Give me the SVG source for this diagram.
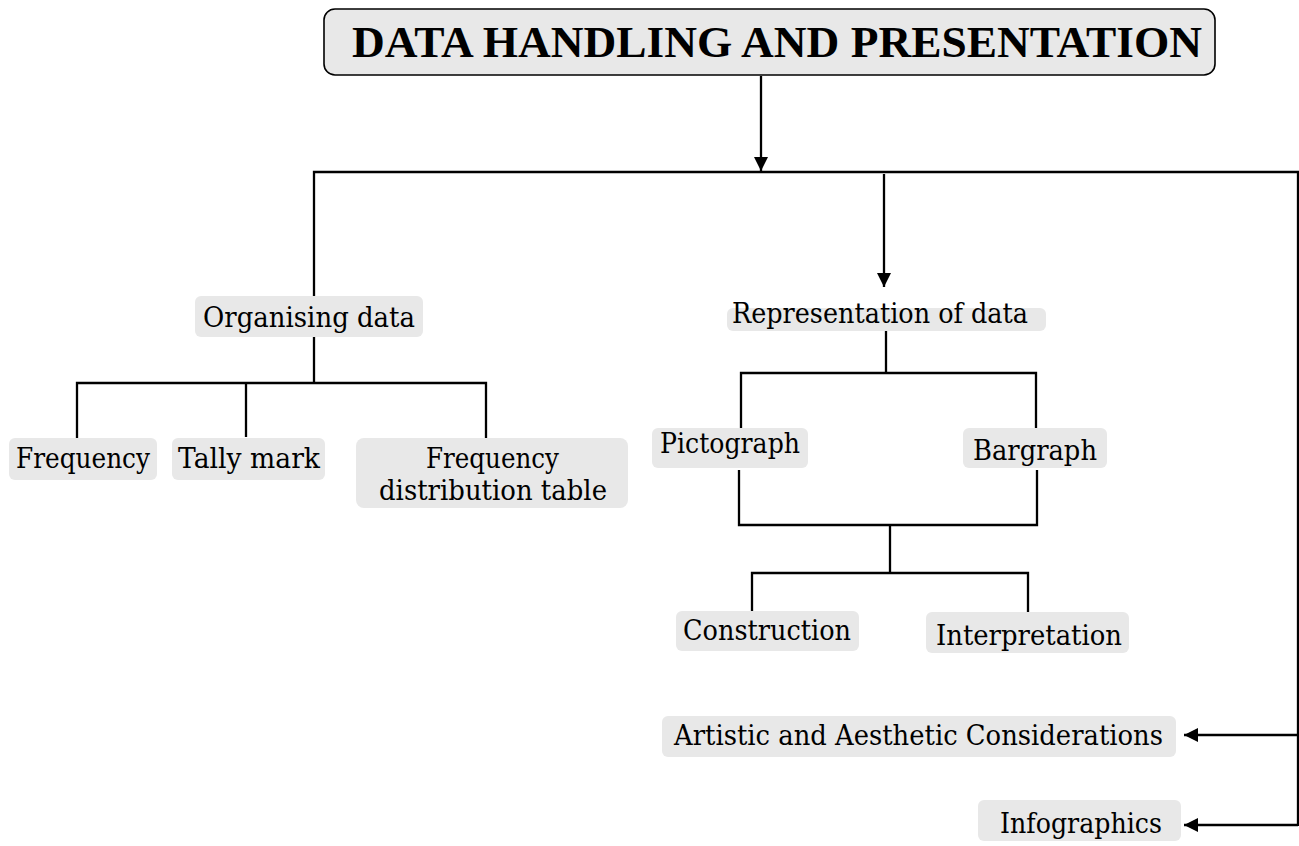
<svg xmlns="http://www.w3.org/2000/svg" width="1299" height="846" viewBox="0 0 1299 846">
  <style>
    .box { fill: #e8e8e8; }
    .title-box { fill: #e8e8e8; stroke: #000; stroke-width: 1.6; }
    .lbl { font-family: "DejaVu Serif", "Liberation Serif", serif; font-size: 27px; fill: #000; }
    .title { font-family: "Liberation Serif", "DejaVu Serif", serif; font-size: 44px; font-weight: bold; fill: #000; }
    .wire { fill: none; stroke: #000; stroke-width: 2.3; }
  </style>
  <defs>
    <marker id="arrow" markerUnits="userSpaceOnUse" markerWidth="16" markerHeight="16" refX="14" refY="7.5" orient="auto">
      <path d="M0,0.5 L14,7.5 L0,14.5 Z" fill="#000"/>
    </marker>
  </defs>
  <rect width="1299" height="846" fill="#fff"/>

  <!-- connectors -->
  <g id="connectors">
    <line class="wire" x1="761" y1="76" x2="761" y2="171" marker-end="url(#arrow)"/>
    <polyline class="wire" points="314,296 314,172 1298,172 1298,826"/>
    <line class="wire" x1="884" y1="174" x2="884" y2="287" marker-end="url(#arrow)"/>
    <line class="wire" x1="1298" y1="735" x2="1184" y2="735" marker-end="url(#arrow)"/>
    <line class="wire" x1="1298" y1="825" x2="1184" y2="825" marker-end="url(#arrow)"/>

    <line class="wire" x1="314" y1="337" x2="314" y2="383"/>
    <polyline class="wire" points="77,438 77,383 486,383 486,438"/>
    <line class="wire" x1="246" y1="383" x2="246" y2="437"/>

    <line class="wire" x1="886" y1="331" x2="886" y2="373"/>
    <polyline class="wire" points="741,428 741,373 1036,373 1036,428"/>
    <polyline class="wire" points="739,470 739,525 1037,525 1037,470"/>
    <line class="wire" x1="890" y1="525" x2="890" y2="573"/>
    <polyline class="wire" points="752,611 752,573 1028,573 1028,612"/>
  </g>

  <!-- nodes -->
  <g id="root">
    <rect class="title-box" x="324" y="9" width="891" height="66" rx="11"/>
    <text class="title" x="352" y="57" textLength="850" lengthAdjust="spacingAndGlyphs">DATA HANDLING AND PRESENTATION</text>
  </g>
  <g id="organising">
    <rect class="box" x="195" y="296" width="228" height="41" rx="6"/>
    <text class="lbl" x="203" y="327" textLength="212" lengthAdjust="spacingAndGlyphs">Organising data</text>
  </g>
  <g id="frequency">
    <rect class="box" x="9" y="438" width="148" height="42" rx="6"/>
    <text class="lbl" x="16" y="468" textLength="134" lengthAdjust="spacingAndGlyphs">Frequency</text>
  </g>
  <g id="tally">
    <rect class="box" x="172" y="438" width="153" height="42" rx="6"/>
    <text class="lbl" x="178" y="468" textLength="142" lengthAdjust="spacingAndGlyphs">Tally mark</text>
  </g>
  <g id="freq-table">
    <rect class="box" x="356" y="438" width="272" height="70" rx="8"/>
    <text class="lbl" x="426" y="468" textLength="133" lengthAdjust="spacingAndGlyphs">Frequency</text>
    <text class="lbl" x="379" y="500" textLength="228" lengthAdjust="spacingAndGlyphs">distribution table</text>
  </g>
  <g id="representation">
    <rect class="box" x="727" y="308" width="319" height="23" rx="6"/>
    <text class="lbl" x="732" y="323" textLength="296" lengthAdjust="spacingAndGlyphs">Representation of data</text>
  </g>
  <g id="pictograph">
    <rect class="box" x="652" y="428" width="156" height="40" rx="6"/>
    <text class="lbl" x="660" y="453" textLength="140" lengthAdjust="spacingAndGlyphs">Pictograph</text>
  </g>
  <g id="bargraph">
    <rect class="box" x="963" y="428" width="144" height="40" rx="6"/>
    <text class="lbl" x="973" y="460" textLength="124" lengthAdjust="spacingAndGlyphs">Bargraph</text>
  </g>
  <g id="construction">
    <rect class="box" x="676" y="611" width="183" height="40" rx="6"/>
    <text class="lbl" x="683" y="640" textLength="168" lengthAdjust="spacingAndGlyphs">Construction</text>
  </g>
  <g id="interpretation">
    <rect class="box" x="926" y="612" width="203" height="41" rx="6"/>
    <text class="lbl" x="936" y="645" textLength="186" lengthAdjust="spacingAndGlyphs">Interpretation</text>
  </g>
  <g id="artistic">
    <rect class="box" x="662" y="716" width="514" height="41" rx="6"/>
    <text class="lbl" x="674" y="745" textLength="489" lengthAdjust="spacingAndGlyphs">Artistic and Aesthetic Considerations</text>
  </g>
  <g id="infographics">
    <rect class="box" x="978" y="800" width="203" height="41" rx="6"/>
    <text class="lbl" x="1000" y="833" textLength="162" lengthAdjust="spacingAndGlyphs">Infographics</text>
  </g>
</svg>
